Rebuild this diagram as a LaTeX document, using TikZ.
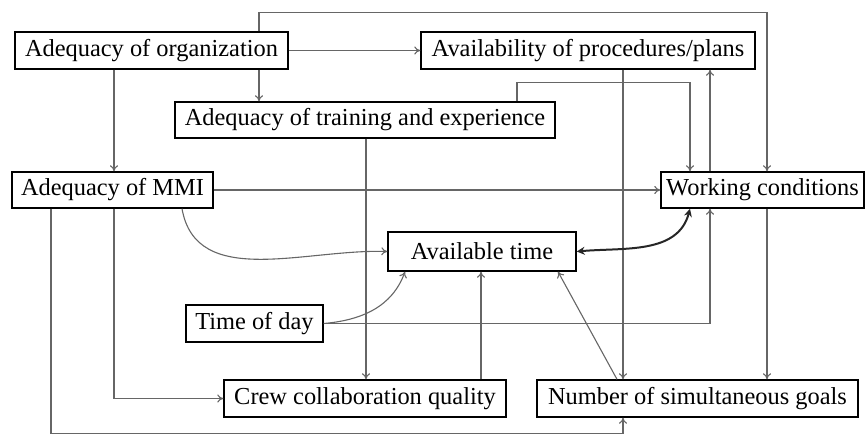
\documentclass[tikz,border=0pt]{standalone}
\usepackage{fontspec}
\setmainfont{Liberation Serif}
\usetikzlibrary{arrows.meta}
\begin{document}
\begin{tikzpicture}[x=0.5pt,y=-0.5pt,
  box/.style={draw=black,line width=0.7pt,rectangle,inner sep=0pt,fill=white,
    font=\fontsize{12.2}{14}\selectfont},
  arr/.style={draw=black!60,line width=0.55pt,-{To[length=3pt,width=4pt]}},
  bold/.style={draw=black!85,line width=1pt,{Stealth[length=4pt,width=4pt]}-{Stealth[length=4pt,width=4pt]}}]
\useasboundingbox (0,0) rectangle (866,435);
\node[box,minimum width=136.5pt,minimum height=18.5pt] (org) at (151.5,50.5) {Adequacy of organization};
\node[box,minimum width=167pt,minimum height=18.5pt] (proc) at (588,50.5) {Availability of procedures/plans};
\node[box,minimum width=190pt,minimum height=18pt] (trn) at (365,120) {Adequacy of training and experience};
\node[box,minimum width=100.5pt,minimum height=18pt] (mmi) at (112.5,190) {Adequacy of MMI};
\node[box,minimum width=101.5pt,minimum height=18pt] (wc) at (762.5,190) {Working conditions};
\node[box,minimum width=94pt,minimum height=19.5pt] (at) at (482,251.5) {Available time};
\node[box,minimum width=68.5pt,minimum height=18.5pt] (tod) at (254.5,323.5) {Time of day};
\node[box,minimum width=141pt,minimum height=18.5pt] (crew) at (365,398.5) {Crew collaboration quality};
\node[box,minimum width=160.5pt,minimum height=18.5pt] (num) at (697.5,398.5) {Number of simultaneous goals};

\draw[arr] (org.north -| 259,0) -- ++(0,-19) -| (wc.north -| 767,0);
\draw[arr] (org.east) -- (proc.west);
\draw[arr] (org.south -| 259,0) -- (trn.north -| 259,0);
\draw[arr] (org.south -| 114,0) -- (mmi.north -| 114,0);
\draw[arr] (proc.south -| 623,0) -- (num.north -| 623,0);
\draw[arr] (trn.north -| 517,0) -- ++(0,-19) -| (wc.north -| 690,0);
\draw[arr] (wc.north -| 710,0) -- (proc.south -| 710,0);
\draw[arr] (mmi.east) -- (wc.west);
\draw[arr] (trn.south -| 366,0) -- (crew.north -| 366,0);
\draw[arr] (mmi.south -| 182,0) to[out=-80,in=178] (at.west);
\draw[arr] (mmi.south -| 114,0) |- (crew.west);
\draw[arr] (mmi.south -| 51,0) -- ++(0,225) -| (num.south -| 623,0);
\draw[arr] (tod.east) to[out=5,in=-110] (at.south -| 405,0);
\draw[arr] (tod.east) -| (wc.south -| 710,0);
\draw[arr] (crew.north -| 481,0) -- (at.south -| 481,0);
\draw[arr] (num.north -| 617,0) -- (at.south -| 558,0);
\draw[arr] (wc.south -| 767,0) -- (num.north -| 767,0);
\draw[bold] (wc.south -| 690,0) to[out=-105,in=5] (at.east);
\end{tikzpicture}
\end{document}
